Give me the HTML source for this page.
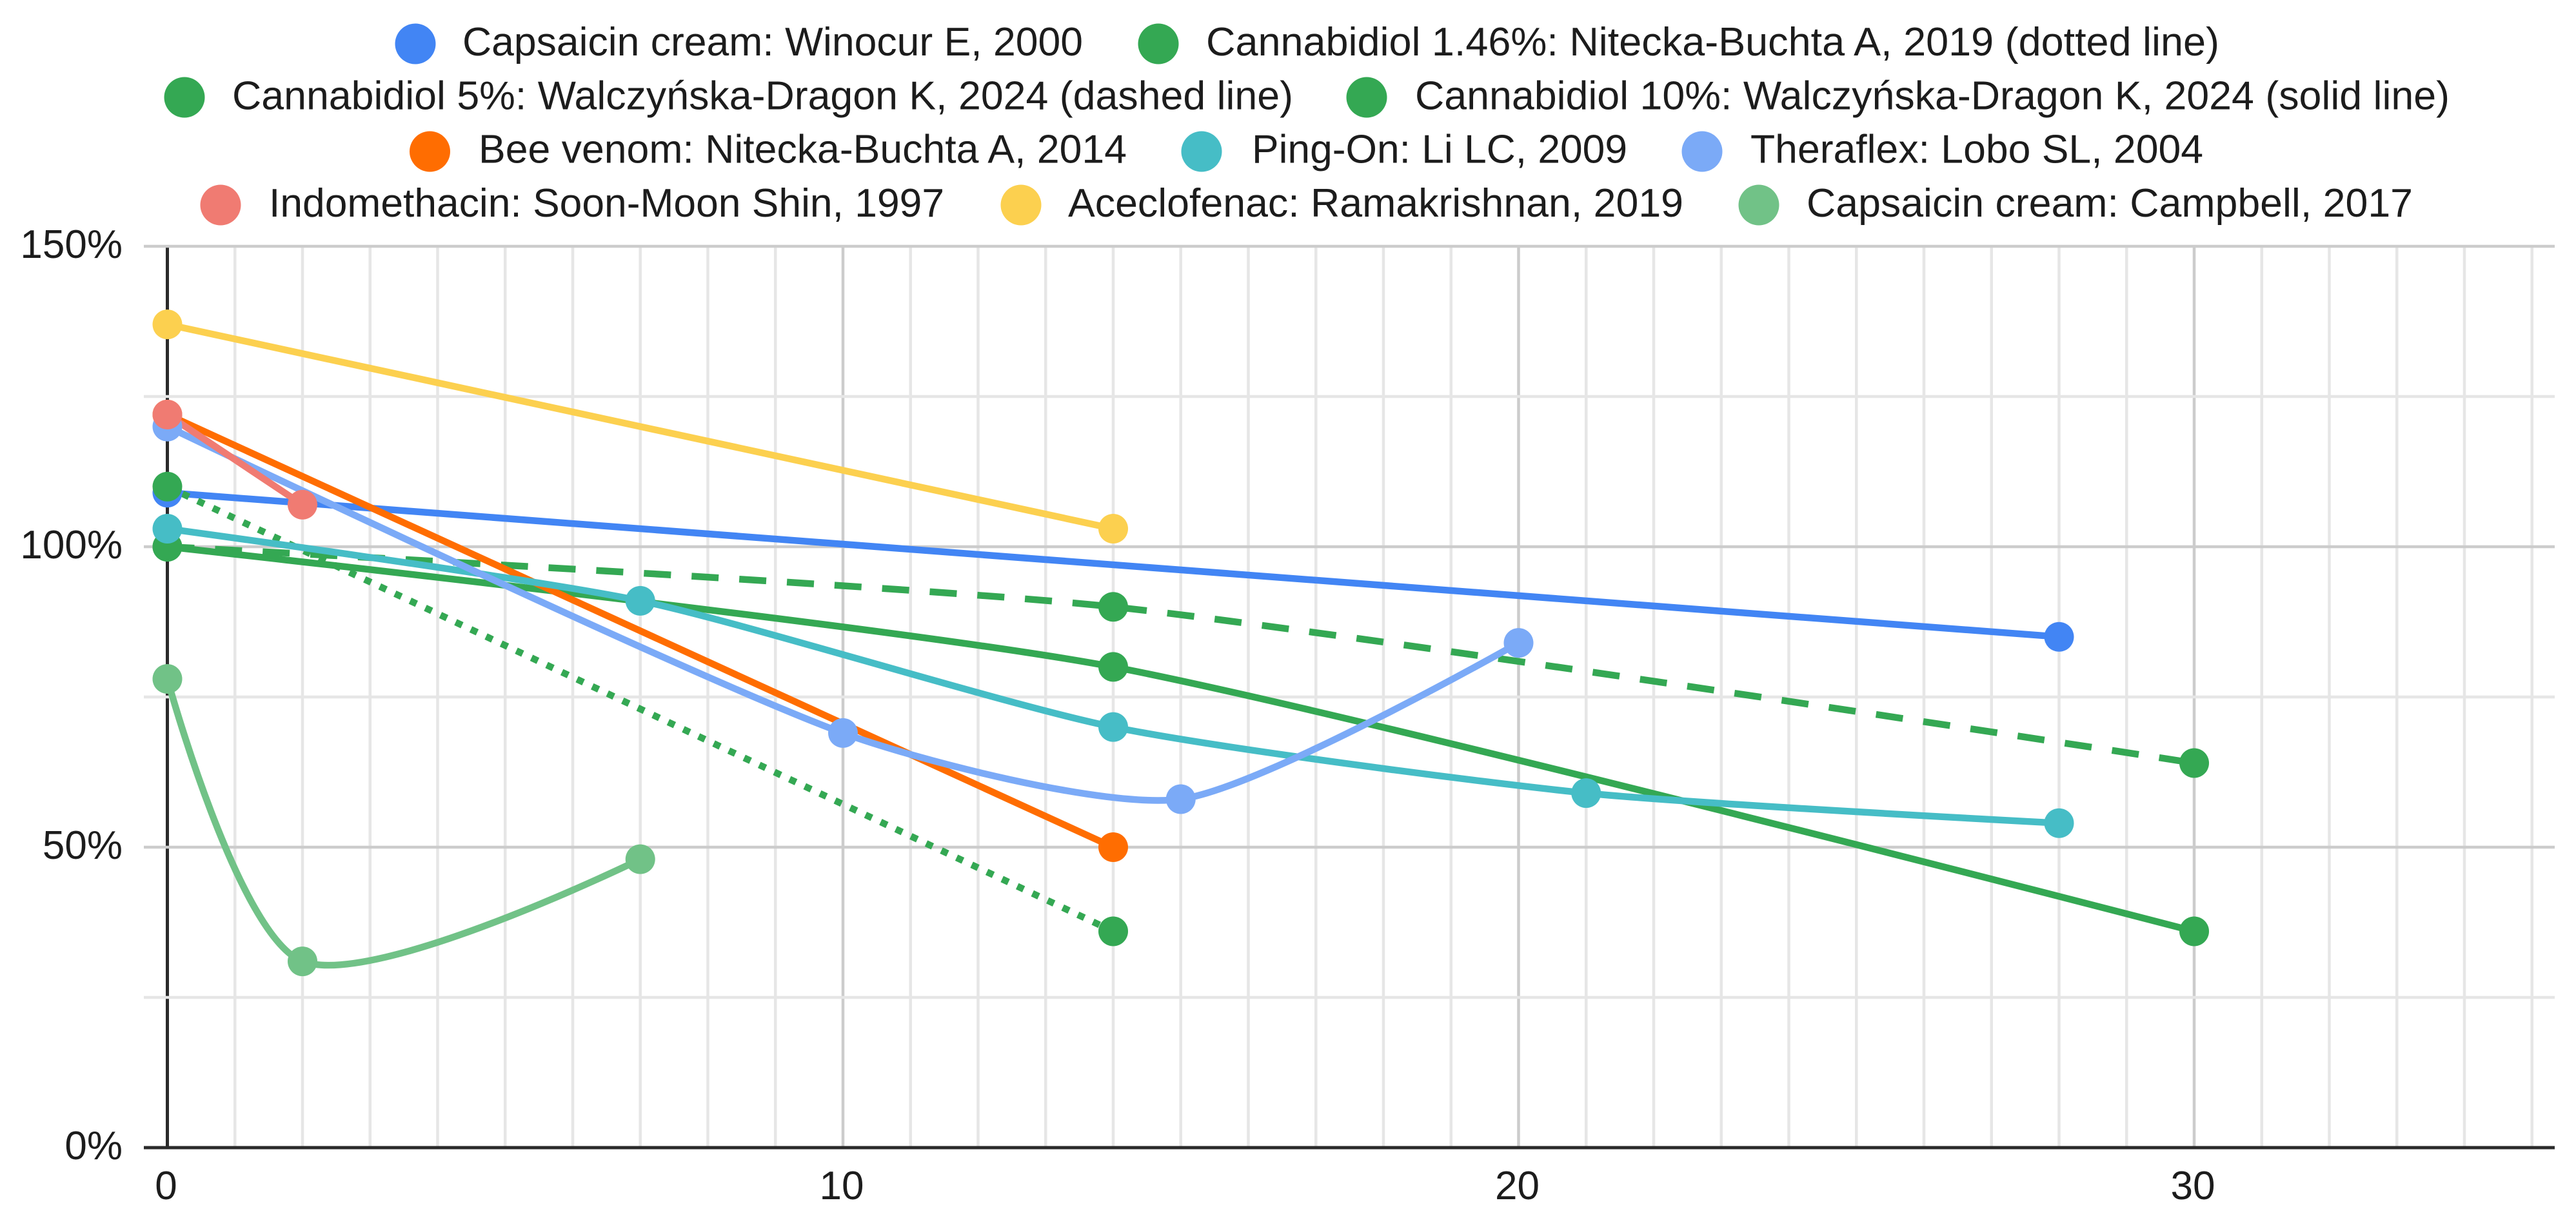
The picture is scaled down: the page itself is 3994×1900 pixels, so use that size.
<!DOCTYPE html>
<html lang="en">
<head>
<meta charset="utf-8">
<title>Pain reduction over time by treatment</title>
<style>
html,body{margin:0;padding:0;background:#fff;}
svg{display:block;}
text{font-family:"Liberation Sans",Arial,sans-serif;fill:#1c1c1c;}
.lg{font-size:62px;}
</style>
</head>
<body>
<svg id="chart" xmlns="http://www.w3.org/2000/svg" width="3994" height="1900" viewBox="0 0 3994 1900">
  <rect x="0" y="0" width="3994" height="1900" fill="#ffffff"/>
  <g id="grid"></g>
  <g id="lines"></g>
  <g id="dots"></g>
  <g id="ticks"></g>
  <g>
    <g><circle cx="644" cy="68" r="31.5" fill="#4285F4"/><text class="lg" x="717" y="86" textLength="962" lengthAdjust="spacingAndGlyphs">Capsaicin cream: Winocur E, 2000</text></g>
    <g><circle cx="1796" cy="68" r="31.5" fill="#34A853"/><text class="lg" x="1870" y="86" textLength="1571" lengthAdjust="spacingAndGlyphs">Cannabidiol 1.46%: Nitecka-Buchta A, 2019 (dotted line)</text></g>
    <g><circle cx="286" cy="151" r="31.5" fill="#34A853"/><text class="lg" x="360" y="169.500" textLength="1645" lengthAdjust="spacingAndGlyphs">Cannabidiol 5%: Walczyńska-Dragon K, 2024 (dashed line)</text></g>
    <g><circle cx="2119" cy="151" r="31.5" fill="#34A853"/><text class="lg" x="2194" y="169.500" textLength="1604" lengthAdjust="spacingAndGlyphs">Cannabidiol 10%: Walczyńska-Dragon K, 2024 (solid line)</text></g>
    <g><circle cx="666.500" cy="235" r="31.5" fill="#FF6D01"/><text class="lg" x="742" y="252.700" textLength="1005" lengthAdjust="spacingAndGlyphs">Bee venom: Nitecka-Buchta A, 2014</text></g>
    <g><circle cx="1863" cy="235" r="31.5" fill="#46BDC6"/><text class="lg" x="1941" y="252.700" textLength="582" lengthAdjust="spacingAndGlyphs">Ping-On: Li LC, 2009</text></g>
    <g><circle cx="2639" cy="235" r="31.5" fill="#7BAAF7"/><text class="lg" x="2714" y="252.700" textLength="702" lengthAdjust="spacingAndGlyphs">Theraflex: Lobo SL, 2004</text></g>
    <g><circle cx="342" cy="318" r="31.5" fill="#F07B72"/><text class="lg" x="417" y="336" textLength="1047" lengthAdjust="spacingAndGlyphs">Indomethacin: Soon-Moon Shin, 1997</text></g>
    <g><circle cx="1583" cy="318" r="31.5" fill="#FCD04F"/><text class="lg" x="1656" y="336" textLength="954" lengthAdjust="spacingAndGlyphs">Aceclofenac: Ramakrishnan, 2019</text></g>
    <g><circle cx="2727" cy="318" r="31.5" fill="#71C287"/><text class="lg" x="2801" y="336" textLength="940" lengthAdjust="spacingAndGlyphs">Capsaicin cream: Campbell, 2017</text></g>
  </g>
</svg>
<script>
// ---- chart data ----
const xMajorTicks = [0, 10, 20, 30];
const xMinorTicks = [1, 2, 3, 4, 5, 6, 7, 8, 9, 11, 12, 13, 14, 15, 16, 17, 18, 19, 21, 22, 23, 24, 25, 26, 27, 28, 29, 31, 32, 33, 34, 35];
const yMajorTicks = [0, 50, 100, 150];
const yMinorTicks = [25, 75, 125];

const winocurDays = [0, 28];
const winocurValues = [109, 85];
const cbd146Days = [0, 14];
const cbd146Values = [110, 36];
const cbd5Days = [0, 14, 30];
const cbd5Values = [100, 90, 64];
const cbd10Days = [0, 14, 30];
const cbd10Values = [100, 80, 36];
const beeVenomDays = [0, 14];
const beeVenomValues = [122, 50];
const pingOnDays = [0, 7, 14, 21, 28];
const pingOnValues = [103, 91, 70, 59, 54];
const theraflexDays = [0, 10, 15, 20];
const theraflexValues = [120, 69, 58, 84];
const indomethacinDays = [0, 2];
const indomethacinValues = [122, 107];
const aceclofenacDays = [0, 14];
const aceclofenacValues = [137, 103];
const campbellDays = [0, 2, 7];
const campbellValues = [78, 31, 48];

// ---- series wiring and styles ----
const series = [
  { key: 'capsaicin-winocur', days: winocurDays, values: winocurValues, color: '#4285F4', dash: '' },
  { key: 'cannabidiol-1-46', days: cbd146Days, values: cbd146Values, color: '#34A853', dash: '11 15' },
  { key: 'cannabidiol-5', days: cbd5Days, values: cbd5Values, color: '#34A853', dash: '42 32' },
  { key: 'cannabidiol-10', days: cbd10Days, values: cbd10Values, color: '#34A853', dash: '' },
  { key: 'bee-venom', days: beeVenomDays, values: beeVenomValues, color: '#FF6D01', dash: '' },
  { key: 'ping-on', days: pingOnDays, values: pingOnValues, color: '#46BDC6', dash: '' },
  { key: 'theraflex', days: theraflexDays, values: theraflexValues, color: '#7BAAF7', dash: '' },
  { key: 'indomethacin', days: indomethacinDays, values: indomethacinValues, color: '#F07B72', dash: '' },
  { key: 'aceclofenac', days: aceclofenacDays, values: aceclofenacValues, color: '#FCD04F', dash: '' },
  { key: 'capsaicin-campbell', days: campbellDays, values: campbellValues, color: '#71C287', dash: '' }
];

// ---- axis functions ----
const NS = 'http://www.w3.org/2000/svg';
function xScale(d) { return 259.5 + 104.75 * d; }
function yScale(v) { return 1780 - 9.32 * v; }
const plotLeft = 223;
const plotRight = 3961;
const curveFactor = 0.22;

function make(tag, parent, props) {
  const el = document.createElementNS(NS, tag);
  for (const k in props) el.setAttribute(k, props[k]);
  parent.appendChild(el);
  return el;
}

function smoothPath(pts) {
  let d = 'M' + pts[0][0] + ' ' + pts[0][1];
  const dist = (a, b) => Math.hypot(b[0] - a[0], b[1] - a[1]);
  const dir = (i) => {
    const a = pts[i - 1], b = pts[i + 1];
    const l = dist(a, b) || 1;
    return [(b[0] - a[0]) / l, (b[1] - a[1]) / l];
  };
  for (let i = 0; i < pts.length - 1; i++) {
    const p = pts[i], q = pts[i + 1], len = dist(p, q) * curveFactor;
    let c1 = p, c2 = q;
    if (i > 0) { const t = dir(i); c1 = [p[0] + t[0] * len, p[1] + t[1] * len]; }
    if (i + 1 < pts.length - 1) { const t = dir(i + 1); c2 = [q[0] - t[0] * len, q[1] - t[1] * len]; }
    d += ' C' + c1[0] + ' ' + c1[1] + ' ' + c2[0] + ' ' + c2[1] + ' ' + q[0] + ' ' + q[1];
  }
  return d;
}

// ---- gridlines ----
const grid = document.getElementById('grid');
const yTop = yScale(150), yBottom = yScale(0);
xMinorTicks.forEach((t) => {
  const el = make('line', grid, { x1: xScale(t), x2: xScale(t), y1: yTop, y2: yBottom, stroke: '#e6e6e6', 'stroke-width': 4.5 });
  
  
});
xMajorTicks.forEach((t) => {
  const el = make('line', grid, { x1: xScale(t), x2: xScale(t), y1: yTop, y2: yBottom, stroke: t === 0 ? '#2a2a2a' : '#cccccc', 'stroke-width': t === 0 ? 5 : 4.5 });
  
  
});
yMinorTicks.forEach((t) => {
  const el = make('line', grid, { x1: plotLeft, x2: plotRight, y1: yScale(t), y2: yScale(t), stroke: '#e6e6e6', 'stroke-width': 4.5 });
  
  
});
yMajorTicks.forEach((t) => {
  const el = make('line', grid, { x1: plotLeft, x2: plotRight, y1: yScale(t), y2: yScale(t), stroke: t === 0 ? '#2a2a2a' : '#cccccc', 'stroke-width': t === 0 ? 5 : 4.5 });
  
  
});

// ---- series ----
const linesG = document.getElementById('lines');
const dotsG = document.getElementById('dots');
series.forEach((s) => {
  const pts = s.days.map((d, i) => [xScale(d), yScale(s.values[i])]);
  const path = make('path', linesG, { d: smoothPath(pts), fill: 'none', stroke: s.color, 'stroke-width': 10.5 });
  if (s.dash) path.setAttribute('stroke-dasharray', s.dash);
  
  
});
series.forEach((s) => {
  s.days.forEach((d, i) => {
    const dot = make('circle', dotsG, { cx: xScale(d), cy: yScale(s.values[i]), r: 23, fill: s.color });
    
    
  });
});

// ---- tick labels ----
const ticksG = document.getElementById('ticks');
yMajorTicks.forEach((t) => {
  const el = make('text', ticksG, { x: 190, y: yScale(t) + 18, 'text-anchor': 'end', 'font-size': 62 });
  el.textContent = t + '%';
  
  
});
xMajorTicks.forEach((t) => {
  const el = make('text', ticksG, { x: xScale(t) - 2, y: 1860, 'text-anchor': 'middle', 'font-size': 62 });
  el.textContent = String(t);
  
  
});
</script>
</body>
</html>
